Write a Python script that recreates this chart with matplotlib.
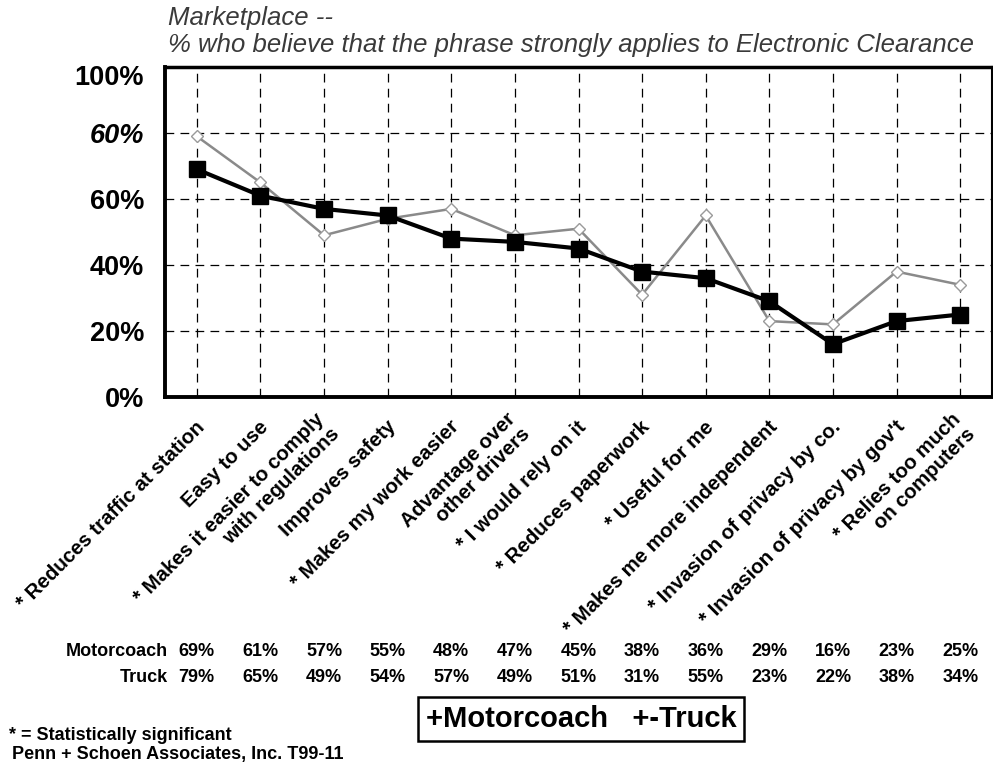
import matplotlib
matplotlib.use("Agg")
import matplotlib.pyplot as plt
import matplotlib.transforms as mtransforms

categories = [
    "* Reduces traffic at station",
    "Easy to use",
    "* Makes it easier to comply\nwith regulations",
    "Improves safety",
    "* Makes my work easier",
    "Advantage over\nother drivers",
    "* I would rely on it",
    "* Reduces paperwork",
    "* Useful for me",
    "* Makes me more independent",
    "* Invasion of privacy by co.",
    "* Invasion of privacy by gov't",
    "* Relies too much\non computers",
]
motorcoach = [69, 61, 57, 55, 48, 47, 45, 38, 36, 29, 16, 23, 25]
truck = [79, 65, 49, 54, 57, 49, 51, 31, 55, 23, 22, 38, 34]
ytick_values = [0, 20, 40, 60, 80, 100]
ytick_labels = ["0%", "20%", "40%", "60%", "60%", "100%"]
title_lines = ["Marketplace --",
               "% who believe that the phrase strongly applies to Electronic Clearance"]
row_names = ["Motorcoach", "Truck"]
legend_text = "+Motorcoach   +-Truck"
footnotes = ["* = Statistically significant", "Penn + Schoen Associates, Inc. T99-11"]

plt.rcParams['font.family'] = ['Liberation Sans', 'DejaVu Sans']

W, H = 993, 768
fig = plt.figure(figsize=(W / 100, H / 100), dpi=100)
L, R, T, B = 165, 992, 67, 397
ax = fig.add_axes([L / W, 1 - B / H, (R - L) / W, (B - T) / H])

x = [i + 0.5 for i in range(len(categories))]
ax.set_xlim(0, len(categories))
ax.set_ylim(0, 100)

# grid
ax.set_xticks(x)
ax.set_yticks(ytick_values)
ax.grid(True, color='black', linestyle=(0, (7, 5)), linewidth=0.9)
ax.set_axisbelow(True)
ax.tick_params(axis='both', length=0)
ax.set_xticklabels([''] * len(x))

ax.plot(x, truck, color='#8a8a8a', lw=1.8, marker='D', ms=6,
        markerfacecolor='white', markeredgecolor='#9a9a9a', markeredgewidth=1.0, zorder=3)
ax.plot(x, motorcoach, color='black', lw=3.0, marker='s', ms=11, zorder=4)

for side, lw in (('left', 2.8), ('bottom', 2.8), ('top', 2.5), ('right', 1.5)):
    ax.spines[side].set_linewidth(lw)
    ax.spines[side].set_color('black')

ax.set_yticklabels(ytick_labels, fontsize=19.5, fontweight='bold')
ax.tick_params(axis='y', pad=15)
ylabels = ax.get_yticklabels()
ylabels[4].set_fontstyle('italic')
ylabels[5].set_transform(ylabels[5].get_transform() +
                         mtransforms.ScaledTranslation(0, -8 / 100, fig.dpi_scale_trans))

# category labels
lab_trans = mtransforms.blended_transform_factory(ax.transData, fig.transFigure)
for xi, lab in zip(x, categories):
    ax.text(xi, 1 - 424 / H, lab,
            transform=lab_trans + mtransforms.ScaledTranslation(5 / 100, 0, fig.dpi_scale_trans),
            rotation=45, rotation_mode='anchor', ha='right', va='center',
            multialignment='right', fontsize=14.7, fontweight='bold', linespacing=1.15)

# data table
row_y = [651, 677]
for name, vals, ry in zip(row_names, [motorcoach, truck], row_y):
    fig.text(168 / W, 1 - ry / H, name, ha='right', va='center', fontsize=13, fontweight='bold')
    for xi, v in zip(x, vals):
        ax.text(xi, 1 - ry / H, f"{v}%", transform=lab_trans, ha='center', va='center',
                fontsize=13, fontweight='bold')

# title
fig.text(168 / W, 1 - 18 / H, title_lines[0], ha='left', va='center', fontsize=18.5,
         fontstyle='italic', color='#3a3a3a')
fig.text(168 / W, 1 - 45 / H, title_lines[1], ha='left', va='center', fontsize=18.5,
         fontstyle='italic', color='#3a3a3a')

# legend box text
fig.text(581 / W, 1 - 719 / H, legend_text, ha='center', va='center', fontsize=21, fontweight='bold',
         bbox=dict(boxstyle='square,pad=0.28', fc='white', ec='black', lw=1.8))

fig.text(9 / W, 1 - 735 / H, footnotes[0], ha='left', va='center', fontsize=13, fontweight='bold')
fig.text(12 / W, 1 - 755 / H, footnotes[1], ha='left', va='center', fontsize=13, fontweight='bold')

fig.savefig('out.png', dpi=100)
